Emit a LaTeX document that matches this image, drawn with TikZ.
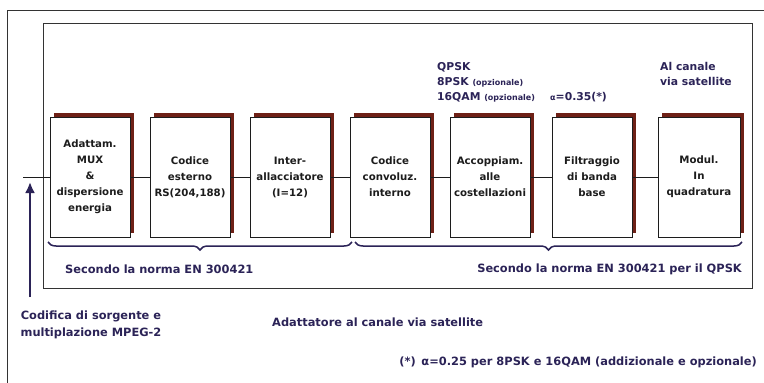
\documentclass[tikz,border=0pt]{standalone}
\usepackage{fontspec}
\setmainfont{DejaVu Sans}
\usetikzlibrary{shadows,decorations.pathreplacing,arrows.meta}
\definecolor{navy}{HTML}{2B2357}
\definecolor{boxink}{HTML}{1C1C1C}
\definecolor{shadowred}{HTML}{6E2016}
\definecolor{frame}{HTML}{333333}
\newcommand\tagsize{\fontsize{8}{9}\selectfont}
\tikzset{
  blockbox/.style={draw=boxink, line width=0.8pt, fill=white,
    minimum width=80pt, minimum height=120pt, inner sep=0pt,
    align=center, text=boxink,
    font=\fontsize{10.2}{16}\selectfont\bfseries,
    general shadow={shadow xshift=4pt, shadow yshift=4pt, fill=shadowred}},
  link/.style={draw=boxink, line width=0.8pt},
  label/.style={text=navy, inner sep=0pt, font=\fontsize{11.4}{17}\selectfont\bfseries},
  toplabel/.style={label, font=\fontsize{10.8}{15}\selectfont\bfseries},
  bracebar/.style={draw=navy, line width=1.5pt,
    decorate, decoration={brace, mirror, amplitude=8pt}},
}
\begin{document}
\begin{tikzpicture}[x=1pt, y=-1pt]
\useasboundingbox (0,0) rectangle (764,383);
\fill[white] (0,0) rectangle (764,383);

% outer and inner frames
\draw[frame, line width=0.9pt] (7,383) -- (7,10) -- (764,10);
\draw[frame, line width=0.9pt] (43,23) rectangle (752,288);

% processing chain
\node[blockbox] (mux)  at (90,177)  {Adattam.\\MUX\\\&\\dispersione\\energia};
\node[blockbox] (rs)   at (190,177) {Codice\\esterno\\RS(204,188)};
\node[blockbox] (il)   at (290,177) {Inter-\\allacciatore\\(I=12)};
\node[blockbox] (conv) at (390,177) {Codice\\convoluz.\\interno};
\node[blockbox] (map)  at (490,177) {Accoppiam.\\alle\\costellazioni};
\node[blockbox] (filt) at (592,177) {Filtraggio\\di banda\\base};
\node[blockbox, minimum width=82pt] (mod) at (699,177) {Modul.\\In\\quadratura};

\coordinate (in) at (23,177);
\draw[link] (in) -- (mux.west);
\draw[link] (mux) -- (rs);
\draw[link] (rs) -- (il);
\draw[link] (il) -- (conv);
\draw[link] (conv) -- (map);
\draw[link] (map) -- (filt);
\draw[link] (filt) -- (mod);

% source input arrow
\coordinate (srcfoot) at (30,297);
\coordinate (srctip) at (30,182);
\draw[navy, line width=2.2pt, -{Latex[length=11pt,width=10pt]}] (srcfoot) -- (srctip);

% standard braces
\coordinate (b1a) at (48,242);
\coordinate (b1b) at (352,242);
\coordinate (b2a) at (355,242);
\coordinate (b2b) at (742,242);
\draw[bracebar] (b1a) -- (b1b);
\draw[bracebar] (b2a) -- (b2b);

\node[label, anchor=west] (std1) at (65,269) {Secondo la norma EN 300421};
\node[label, anchor=east] (std2) at (742,269) {Secondo la norma EN 300421 per il QPSK};

% annotations above the chain
\node[toplabel, anchor=north west, align=left] (mods) at (437,62)
  {QPSK\\8PSK {\tagsize (opzionale)}\\16QAM {\tagsize (opzionale)}};
\node[toplabel, anchor=west] (roll) at (550,97) {{\tagsize α}=0.35(*)};
\node[toplabel, anchor=north west, align=left] (sat) at (660,62) {Al canale\\via satellite};

% captions below the frame
\node[label, align=center] (src) at (91,325) {Codifica di sorgente e\\multiplazione MPEG-2};
\node[label, anchor=west] (adapt) at (272,322) {Adattatore al canale via satellite};
\node[label, anchor=east] (note) at (757,362)
  {(*)\enspace α=0.25 per 8PSK e 16QAM (addizionale e opzionale)};
\end{tikzpicture}
\end{document}
